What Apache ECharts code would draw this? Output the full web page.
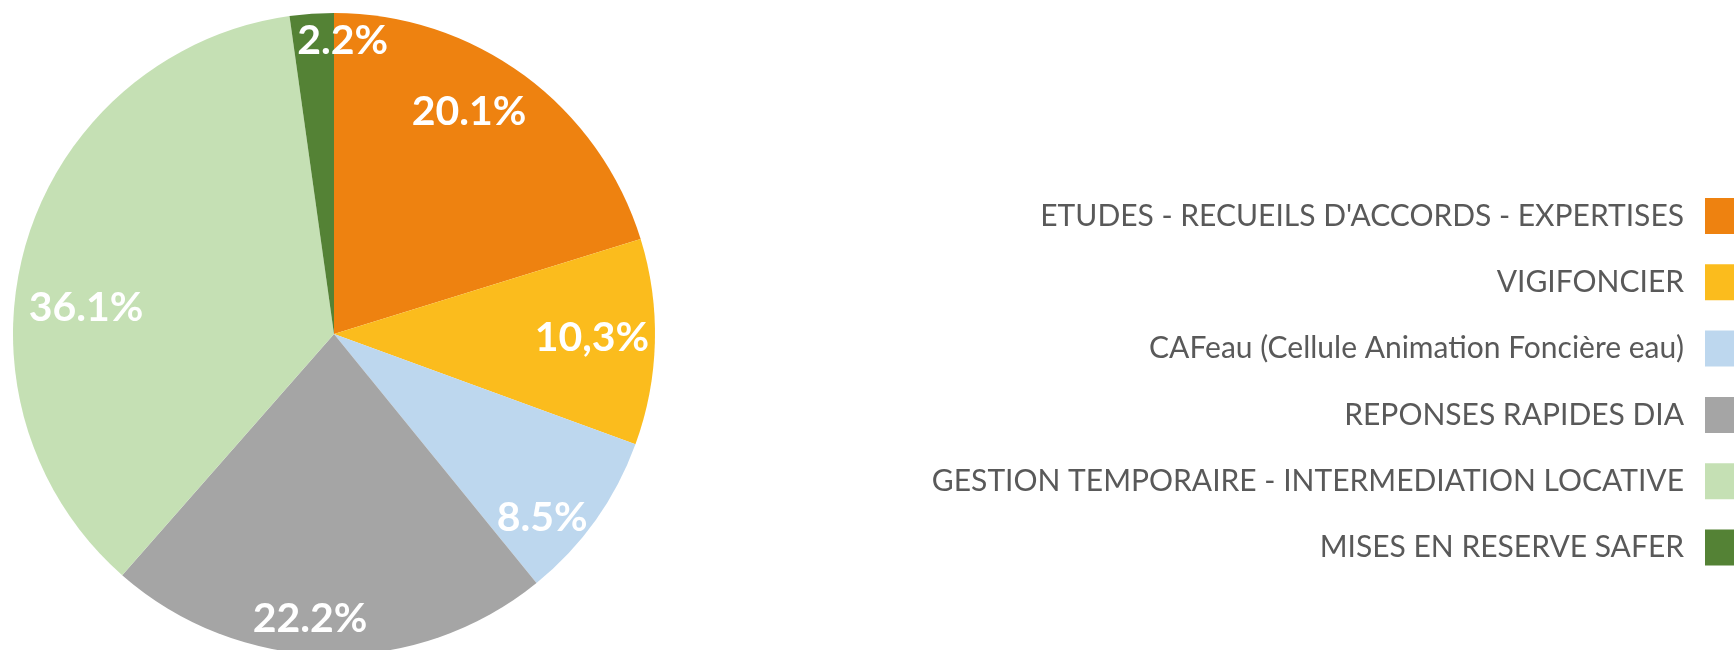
<!DOCTYPE html>
<html>
<head>
<meta charset="utf-8">
<script src="https://cdn.jsdelivr.net/npm/echarts@6/dist/echarts.min.js"></script>
<style>
html, body { margin: 0; padding: 0; background: #fff; overflow: hidden; }
#main { width: 1734px; height: 650px; }
</style>
</head>
<body>
<div id="main"></div>
<script>
var categories = [
	'ETUDES - RECUEILS D\'ACCORDS - EXPERTISES',
	'VIGIFONCIER',
	'CAFeau (Cellule Animation Foncière eau)',
	'REPONSES RAPIDES DIA',
	'GESTION TEMPORAIRE - INTERMEDIATION LOCATIVE',
	'MISES EN RESERVE SAFER'
];
var values = [20.1, 10.3, 8.5, 22.2, 36.1, 2.2];
var labelTexts = ['20.1%', '10,3%', '8.5%', '22.2%', '36.1%', '2.2%'];
var colors = ['#EE8210', '#FBBC1D', '#BDD7EE', '#A5A5A5', '#C5E0B4', '#548235'];

// labels were moved by hand in the original, nudges in px
var labelOffsets = [[-21, -11], [-5, -3], [-6, 31], [-19, 22], [4, 49], [27, -31]];

var chart = echarts.init(document.getElementById('main'));

var pieData = [];
var ringData = [];
for (var i = 0; i < categories.length; i++) {
	pieData.push({ name: categories[i], value: values[i], itemStyle: { color: colors[i] } });
	ringData.push({ name: categories[i], value: values[i], label: { offset: labelOffsets[i] } });
}

chart.setOption({
	animation: false,
	color: colors,
	legend: {
		orient: 'vertical',
		right: -12,
		top: 193,
		align: 'right',
		itemWidth: 36,
		itemHeight: 36,
		itemGap: 30.3,
		icon: 'rect',
		selectedMode: false,
		textStyle: {
			fontFamily: 'Lato',
			fontSize: 30,
			color: '#595959',
			padding: [0, 16, 0, 0]
		},
		data: categories
	},
	series: [
		{
			name: 'pie',
			type: 'pie',
			center: [334, 334],
			radius: [0, 321],
			startAngle: 90,
			clockwise: true,
			silent: true,
			label: { show: false },
			labelLine: { show: false },
			itemStyle: { borderWidth: 0 },
			data: pieData
		},
		{
			// transparent ring, only carries the labels
			name: 'labels',
			type: 'pie',
			center: [334, 334],
			radius: [199, 321],
			startAngle: 90,
			clockwise: true,
			silent: true,
			itemStyle: { color: 'transparent', borderWidth: 0 },
			label: {
				show: true,
				position: 'inside',
				fontFamily: 'Lato',
				fontWeight: 'bold',
				fontSize: 41,
				color: '#fff',
				formatter: function (p) { return labelTexts[p.dataIndex]; }
			},
			labelLine: { show: false },
			data: ringData
		}
	]
});
</script>
</body>
</html>
